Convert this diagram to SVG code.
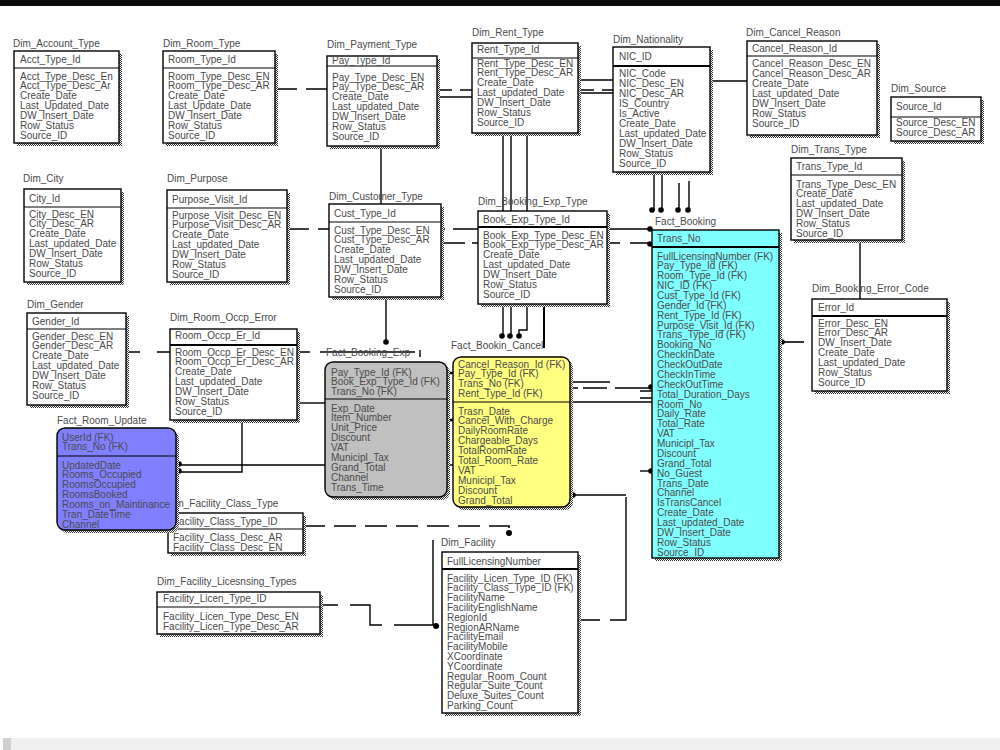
<svg xmlns="http://www.w3.org/2000/svg" width="1000" height="750" viewBox="0 0 1000 750">
<defs>
<pattern id="sh" width="2" height="2" patternUnits="userSpaceOnUse"><rect width="2" height="2" fill="#fff"/><rect width="1" height="1" fill="#333"/><rect x="1" y="1" width="1" height="1" fill="#333"/></pattern>
<clipPath id="cpAcct"><rect x="14" y="51" width="99" height="92"/></clipPath>
<style>
.t{font-family:"Liberation Sans",Arial,sans-serif;font-size:10px;fill:#4a4a4a}
.b{fill:#fff;stroke:#000;stroke-width:1.4}
.s{fill:url(#sh)}
.h{stroke:#000;stroke-width:1.2}
.hk{stroke:#000;stroke-width:2.2}
.c{fill:none;stroke:#000;stroke-width:1.4}
.d{fill:none;stroke:#000;stroke-width:1.6;stroke-dasharray:22 9}
.dot{fill:#000}
</style>
</defs>
<rect width="1000" height="750" fill="#fff"/>
<rect x="0" y="0" width="1000" height="6" fill="#0a0a0a"/>
<rect x="3" y="738" width="997" height="12" fill="#efefef"/>
<rect x="3" y="738" width="8" height="12" fill="#cfcfcf"/>

<g id="connectors">
<path class="d" d="M275,89 H327"/>
<path class="c" d="M437,90 H452 M460,90 H472"/>
<path class="c" d="M437,97 H472"/>
<path class="c" d="M578,80 H613"/>
<path class="c" d="M578,90 H594 M602,90 H613"/>
<path class="c" d="M578,93 H613"/>
<path class="c" d="M710,81 H747"/>
<path class="c" d="M654,172 V210 M662,172 V210 M679,183 V210 M689,181 V210"/>
<circle class="dot" cx="652" cy="210" r="2.8"/><circle class="dot" cx="661" cy="210" r="2.8"/>
<circle class="dot" cx="678" cy="210" r="2.8"/><circle class="dot" cx="688" cy="210" r="2.8"/>
<path class="d" d="M287,229 H329"/>
<path class="c" d="M441,229 H445 M453,229 H478 M607,229 H650"/>
<path class="c" d="M441,243 H465 M472,243 H478 M607,243 H620 M630,243 H650"/>
<circle class="dot" cx="650" cy="229" r="2.8"/><circle class="dot" cx="650" cy="244" r="2.8"/>
<path class="c" d="M381,146 V204 M386,297 V342"/>
<circle class="dot" cx="386" cy="342" r="2.8"/>
<path class="c" d="M503,133 V211 M511,133 V211 M527,133 V211"/>
<path class="c" d="M503,304 V336 M511,304 V336 M527,304 V330 H519 V336"/>
<path class="c" style="stroke-width:2" d="M544,304 V348"/>
<circle class="dot" cx="502" cy="336" r="2.8"/><circle class="dot" cx="510" cy="336" r="2.8"/><circle class="dot" cx="519" cy="336" r="2.8"/>
<path class="c" d="M126,352 H140 M157,352 H170"/>
<path class="c" d="M297,352 H310 M320,352 H415 M420,350 V357"/>
<path class="c" d="M297,403 H325"/>
<path class="c" d="M242,420 V472 H180"/>
<path class="c" d="M180,465 H325 M447,465 H453"/>
<circle class="dot" cx="179" cy="464" r="2.8"/><circle class="dot" cx="179" cy="471" r="2.8"/>
<path class="c" style="stroke-width:2.5" d="M447,373 H453 M447,420 H453"/>
<path class="c" d="M570,382 H610"/>
<path class="c" d="M572,388 H578 M583,388 H607 M615,388 H650"/>
<path class="c" d="M570,402 H652"/>
<path class="c" d="M640,391 H652 M640,398 H652"/>
<circle class="dot" cx="651" cy="387" r="2.8"/>
<path class="c" d="M573,495 H626"/>
<circle class="dot" cx="573" cy="495" r="2.8"/>
<path class="c" d="M640,471 H652"/>
<circle class="dot" cx="651" cy="471" r="2.8"/>
<path class="d" d="M782,342 H812"/>
<circle class="dot" cx="782" cy="342" r="2.8"/>
<path class="c" d="M860,240 V299"/>
<path class="d" d="M303,526 H509 V533"/>
<circle class="dot" cx="509" cy="533" r="3"/>
<path class="c" d="M320,605 H338 M350,605 H370 V625 H382 M394,625 H436"/>
<path class="c" d="M433,540 V625"/>
<circle class="dot" cx="436" cy="626" r="3"/>
<path class="c" d="M626,497 V620 H610 M600,620 H578"/>
</g>

<g id="Dim_Account_Type">
<rect class="s" x="17" y="54" width="105" height="92"/>
<rect class="b" x="14" y="51" width="105" height="92"/>
<line class="h" x1="14" y1="68" x2="119" y2="68"/>
<text class="t" x="13" y="47">Dim_Account_Type</text>
<text class="t" x="20" y="62.5">Acct_Type_Id</text>
<g clip-path="url(#cpAcct)"><text class="t" x="20" y="79.5"><tspan x="20">Acct_Type_Desc_En</tspan><tspan x="20" dy="9.9">Acct_Type_Desc_Ar</tspan><tspan x="20" dy="9.9">Create_Date</tspan><tspan x="20" dy="9.9">Last_Updated_Date</tspan><tspan x="20" dy="9.9">DW_Insert_Date</tspan><tspan x="20" dy="9.9">Row_Status</tspan><tspan x="20" dy="9.9">Source_ID</tspan></text></g>
</g>

<g id="Dim_Room_Type">
<rect class="s" x="166" y="54" width="112" height="92"/>
<rect class="b" x="163" y="51" width="112" height="92"/>
<line class="h" x1="163" y1="68" x2="275" y2="68"/>
<text class="t" x="163" y="47">Dim_Room_Type</text>
<text class="t" x="168" y="62.5">Room_Type_Id</text>
<text class="t" x="168" y="79.5"><tspan x="168">Room_Type_Desc_EN</tspan><tspan x="168" dy="9.9">Room_Type_Desc_AR</tspan><tspan x="168" dy="9.9">Create_Date</tspan><tspan x="168" dy="9.9">Last_Update_Date</tspan><tspan x="168" dy="9.9">DW_Insert_Date</tspan><tspan x="168" dy="9.9">Row_Status</tspan><tspan x="168" dy="9.9">Source_ID</tspan></text>
</g>

<g id="Dim_Payment_Type">
<rect class="s" x="330" y="59" width="110" height="90"/>
<rect class="b" x="327" y="56" width="110" height="90"/>
<line class="h" x1="327" y1="66" x2="437" y2="66"/>
<text class="t" x="327" y="47.5">Dim_Payment_Type</text>
<text class="t" x="332" y="64">Pay_Type_Id</text>
<text class="t" x="332" y="80.5"><tspan x="332">Pay_Type_Desc_EN</tspan><tspan x="332" dy="9.9">Pay_Type_Desc_AR</tspan><tspan x="332" dy="9.9">Create_Date</tspan><tspan x="332" dy="9.9">Last_updated_Date</tspan><tspan x="332" dy="9.9">DW_Insert_Date</tspan><tspan x="332" dy="9.9">Row_Status</tspan><tspan x="332" dy="9.9">Source_ID</tspan></text>
</g>

<g id="Dim_Rent_Type">
<rect class="s" x="475" y="46" width="106" height="90"/>
<rect class="b" x="472" y="43" width="106" height="90"/>
<line class="h" x1="472" y1="58" x2="578" y2="58"/>
<text class="t" x="472" y="35.5">Dim_Rent_Type</text>
<text class="t" x="477" y="53">Rent_Type_Id</text>
<text class="t" x="477" y="66.5"><tspan x="477">Rent_Type_Desc_EN</tspan><tspan x="477" dy="9.9">Rent_Type_Desc_AR</tspan><tspan x="477" dy="9.9">Create_Date</tspan><tspan x="477" dy="9.9">Last_updated_Date</tspan><tspan x="477" dy="9.9">DW_Insert_Date</tspan><tspan x="477" dy="9.9">Row_Status</tspan><tspan x="477" dy="9.9">Source_ID</tspan></text>
</g>

<g id="Dim_Nationality">
<rect class="s" x="616" y="50" width="97" height="125"/>
<rect class="b" x="613" y="47" width="97" height="125"/>
<line class="hk" x1="613" y1="66" x2="710" y2="66"/>
<text class="t" x="613" y="42.5">Dim_Nationality</text>
<text class="t" x="619" y="59.5">NIC_ID</text>
<text class="t" x="619" y="76.5"><tspan x="619">NIC_Code</tspan><tspan x="619" dy="10">NIC_Desc_EN</tspan><tspan x="619" dy="10">NIC_Desc_AR</tspan><tspan x="619" dy="10">IS_Country</tspan><tspan x="619" dy="10">Is_Active</tspan><tspan x="619" dy="10">Create_Date</tspan><tspan x="619" dy="10">Last_updated_Date</tspan><tspan x="619" dy="10">DW_Insert_Date</tspan><tspan x="619" dy="10">Row_Status</tspan><tspan x="619" dy="10">Source_ID</tspan></text>
</g>

<g id="Dim_Cancel_Reason">
<rect class="s" x="750" y="44" width="130" height="94"/>
<rect class="b" x="747" y="41" width="130" height="94"/>
<line class="h" x1="747" y1="56" x2="877" y2="56"/>
<text class="t" x="746" y="36">Dim_Cancel_Reason</text>
<text class="t" x="752" y="52">Cancel_Reason_Id</text>
<text class="t" x="752" y="66.5"><tspan x="752">Cancel_Reason_Desc_EN</tspan><tspan x="752" dy="10">Cancel_Reason_Desc_AR</tspan><tspan x="752" dy="10">Create_Date</tspan><tspan x="752" dy="10">Last_updated_Date</tspan><tspan x="752" dy="10">DW_Insert_Date</tspan><tspan x="752" dy="10">Row_Status</tspan><tspan x="752" dy="10">Source_ID</tspan></text>
</g>

<g id="Dim_Source">
<rect class="s" x="894" y="100" width="90" height="44"/>
<rect class="b" x="891" y="97" width="90" height="44"/>
<line class="h" x1="891" y1="117" x2="981" y2="117"/>
<text class="t" x="891" y="92">Dim_Source</text>
<text class="t" x="896" y="109.5">Source_Id</text>
<text class="t" x="896" y="125.5"><tspan x="896">Source_Desc_EN</tspan><tspan x="896" dy="10">Source_Desc_AR</tspan></text>
</g>

<g id="Dim_Trans_Type">
<rect class="s" x="794" y="161" width="111" height="82"/>
<rect class="b" x="791" y="158" width="111" height="82"/>
<line class="h" x1="791" y1="175" x2="902" y2="175"/>
<text class="t" x="791" y="153">Dim_Trans_Type</text>
<text class="t" x="796" y="170">Trans_Type_Id</text>
<text class="t" x="796" y="187.5"><tspan x="796">Trans_Type_Desc_EN</tspan><tspan x="796" dy="9.9">Create_Date</tspan><tspan x="796" dy="9.9">Last_updated_Date</tspan><tspan x="796" dy="9.9">DW_Insert_Date</tspan><tspan x="796" dy="9.9">Row_Status</tspan><tspan x="796" dy="9.9">Source_ID</tspan></text>
</g>

<g id="Dim_City">
<rect class="s" x="27" y="192" width="97" height="93"/>
<rect class="b" x="24" y="189" width="97" height="93"/>
<line class="h" x1="24" y1="207" x2="121" y2="207"/>
<text class="t" x="23" y="182">Dim_City</text>
<text class="t" x="29" y="201.5">City_Id</text>
<text class="t" x="29" y="217.5"><tspan x="29">City_Desc_EN</tspan><tspan x="29" dy="9.9">City_Desc_AR</tspan><tspan x="29" dy="9.9">Create_Date</tspan><tspan x="29" dy="9.9">Last_updated_Date</tspan><tspan x="29" dy="9.9">DW_Insert_Date</tspan><tspan x="29" dy="9.9">Row_Status</tspan><tspan x="29" dy="9.9">Source_ID</tspan></text>
</g>

<g id="Dim_Purpose">
<rect class="s" x="170" y="193" width="120" height="92"/>
<rect class="b" x="167" y="190" width="120" height="92"/>
<line class="h" x1="167" y1="208" x2="287" y2="208"/>
<text class="t" x="167" y="182">Dim_Purpose</text>
<text class="t" x="172" y="202.5">Purpose_Visit_Id</text>
<text class="t" x="172" y="218.5"><tspan x="172">Purpose_Visit_Desc_EN</tspan><tspan x="172" dy="9.9">Purpose_Visit_Desc_AR</tspan><tspan x="172" dy="9.9">Create_Date</tspan><tspan x="172" dy="9.9">Last_updated_Date</tspan><tspan x="172" dy="9.9">DW_Insert_Date</tspan><tspan x="172" dy="9.9">Row_Status</tspan><tspan x="172" dy="9.9">Source_ID</tspan></text>
</g>

<g id="Dim_Customer_Type">
<rect class="s" x="332" y="207" width="112" height="93"/>
<rect class="b" x="329" y="204" width="112" height="93"/>
<line class="h" x1="329" y1="222" x2="441" y2="222"/>
<text class="t" x="329" y="200">Dim_Customer_Type</text>
<text class="t" x="334" y="216.5">Cust_Type_Id</text>
<text class="t" x="334" y="233.5"><tspan x="334">Cust_Type_Desc_EN</tspan><tspan x="334" dy="9.9">Cust_Type_Desc_AR</tspan><tspan x="334" dy="9.9">Create_Date</tspan><tspan x="334" dy="9.9">Last_updated_Date</tspan><tspan x="334" dy="9.9">DW_Insert_Date</tspan><tspan x="334" dy="9.9">Row_Status</tspan><tspan x="334" dy="9.9">Source_ID</tspan></text>
</g>

<g id="Dim_Booking_Exp_Type">
<rect class="s" x="481" y="214" width="129" height="93"/>
<rect class="b" x="478" y="211" width="129" height="93"/>
<line class="hk" x1="478" y1="227" x2="607" y2="227"/>
<text class="t" x="478" y="205">Dim_Booking_Exp_Type</text>
<text class="t" x="483" y="222.5">Book_Exp_Type_Id</text>
<text class="t" x="483" y="238.5"><tspan x="483">Book_Exp_Type_Desc_EN</tspan><tspan x="483" dy="9.9">Book_Exp_Type_Desc_AR</tspan><tspan x="483" dy="9.9">Create_Date</tspan><tspan x="483" dy="9.9">Last_updated_Date</tspan><tspan x="483" dy="9.9">DW_Insert_Date</tspan><tspan x="483" dy="9.9">Row_Status</tspan><tspan x="483" dy="9.9">Source_ID</tspan></text>
</g>

<g id="Fact_Booking">
<rect class="s" x="655" y="233" width="127" height="328"/>
<rect class="b" x="652" y="230" width="127" height="328" style="fill:#80ffff"/>
<line class="hk" x1="652" y1="247" x2="779" y2="247"/>
<text class="t" x="655" y="225">Fact_Booking</text>
<text class="t" x="657" y="241.5">Trans_No</text>
<text class="t" x="657" y="259.5"><tspan x="657">FullLicensingNumber (FK)</tspan><tspan x="657" dy="9.87">Pay_Type_Id (FK)</tspan><tspan x="657" dy="9.87">Room_Type_Id (FK)</tspan><tspan x="657" dy="9.87">NIC_ID (FK)</tspan><tspan x="657" dy="9.87">Cust_Type_Id (FK)</tspan><tspan x="657" dy="9.87">Gender_Id (FK)</tspan><tspan x="657" dy="9.87">Rent_Type_Id (FK)</tspan><tspan x="657" dy="9.87">Purpose_Visit_Id (FK)</tspan><tspan x="657" dy="9.87">Trans_Type_Id (FK)</tspan><tspan x="657" dy="9.87">Booking_No</tspan><tspan x="657" dy="9.87">CheckInDate</tspan><tspan x="657" dy="9.87">CheckOutDate</tspan><tspan x="657" dy="9.87">CheckInTime</tspan><tspan x="657" dy="9.87">CheckOutTime</tspan><tspan x="657" dy="9.87">Total_Duration_Days</tspan><tspan x="657" dy="9.87">Room_No</tspan><tspan x="657" dy="9.87">Daily_Rate</tspan><tspan x="657" dy="9.87">Total_Rate</tspan><tspan x="657" dy="9.87">VAT</tspan><tspan x="657" dy="9.87">Municipl_Tax</tspan><tspan x="657" dy="9.87">Discount</tspan><tspan x="657" dy="9.87">Grand_Total</tspan><tspan x="657" dy="9.87">No_Guest</tspan><tspan x="657" dy="9.87">Trans_Date</tspan><tspan x="657" dy="9.87">Channel</tspan><tspan x="657" dy="9.87">IsTransCancel</tspan><tspan x="657" dy="9.87">Create_Date</tspan><tspan x="657" dy="9.87">Last_updated_Date</tspan><tspan x="657" dy="9.87">DW_Insert_Date</tspan><tspan x="657" dy="9.87">Row_Status</tspan><tspan x="657" dy="9.87">Source_ID</tspan></text>
</g>

<g id="Dim_Booking_Error_Code">
<rect class="s" x="815" y="302" width="135" height="92"/>
<rect class="b" x="812" y="299" width="135" height="92"/>
<line class="hk" x1="812" y1="316" x2="947" y2="316"/>
<text class="t" x="812" y="292">Dim_Booking_Error_Code</text>
<text class="t" x="818" y="310.5">Error_Id</text>
<text class="t" x="818" y="326.5"><tspan x="818">Error_Desc_EN</tspan><tspan x="818" dy="9.9">Error_Desc_AR</tspan><tspan x="818" dy="9.9">DW_Insert_Date</tspan><tspan x="818" dy="9.9">Create_Date</tspan><tspan x="818" dy="9.9">Last_updated_Date</tspan><tspan x="818" dy="9.9">Row_Status</tspan><tspan x="818" dy="9.9">Source_ID</tspan></text>
</g>

<g id="Dim_Gender">
<rect class="s" x="30" y="316" width="99" height="92"/>
<rect class="b" x="27" y="313" width="99" height="92"/>
<line class="h" x1="27" y1="329" x2="126" y2="329"/>
<text class="t" x="27" y="308">Dim_Gender</text>
<text class="t" x="32" y="324.5">Gender_Id</text>
<text class="t" x="32" y="339.5"><tspan x="32">Gender_Desc_EN</tspan><tspan x="32" dy="9.9">Gender_Desc_AR</tspan><tspan x="32" dy="9.9">Create_Date</tspan><tspan x="32" dy="9.9">Last_updated_Date</tspan><tspan x="32" dy="9.9">DW_Insert_Date</tspan><tspan x="32" dy="9.9">Row_Status</tspan><tspan x="32" dy="9.9">Source_ID</tspan></text>
</g>

<g id="Dim_Room_Occp_Error">
<rect class="s" x="173" y="332" width="127" height="91"/>
<rect class="b" x="170" y="329" width="127" height="91"/>
<line class="hk" x1="170" y1="345" x2="297" y2="345"/>
<text class="t" x="170" y="321">Dim_Room_Occp_Error</text>
<text class="t" x="175" y="338.5">Room_Occp_Er_Id</text>
<text class="t" x="175" y="355.5"><tspan x="175">Room_Occp_Er_Desc_EN</tspan><tspan x="175" dy="9.9">Room_Occp_Er_Desc_AR</tspan><tspan x="175" dy="9.9">Create_Date</tspan><tspan x="175" dy="9.9">Last_updated_Date</tspan><tspan x="175" dy="9.9">DW_Insert_Date</tspan><tspan x="175" dy="9.9">Row_Status</tspan><tspan x="175" dy="9.9">Source_ID</tspan></text>
</g>

<g id="Fact_Booking_Exp">
<rect class="s" x="328" y="365" width="122" height="135" rx="8"/>
<rect class="b" x="325" y="362" width="122" height="135" rx="8" style="fill:#c0c0c0"/>
<line class="h" x1="325" y1="399" x2="447" y2="399"/>
<text class="t" x="326" y="356">Fact_Booking_Exp</text>
<text class="t" x="331" y="375.5"><tspan x="331">Pay_Type_Id (FK)</tspan><tspan x="331" dy="9.5">Book_Exp_Type_Id (FK)</tspan><tspan x="331" dy="9.5">Trans_No (FK)</tspan></text>
<text class="t" x="331" y="411.5"><tspan x="331">Exp_Date</tspan><tspan x="331" dy="9.9">Item_Number</tspan><tspan x="331" dy="9.9">Unit_Price</tspan><tspan x="331" dy="9.9">Discount</tspan><tspan x="331" dy="9.9">VAT</tspan><tspan x="331" dy="9.9">Municipl_Tax</tspan><tspan x="331" dy="9.9">Grand_Total</tspan><tspan x="331" dy="9.9">Channel</tspan><tspan x="331" dy="9.9">Trans_Time</tspan></text>
</g>

<g id="Fact_Bookin_Cancel">
<rect class="s" x="456" y="360" width="117" height="150" rx="8"/>
<rect class="b" x="453" y="357" width="117" height="150" rx="8" style="fill:#ffff80"/>
<line class="h" x1="453" y1="402" x2="570" y2="402"/>
<text class="t" x="451" y="349">Fact_Bookin_Cancel</text>
<text class="t" x="458" y="367.5"><tspan x="458">Cancel_Reason_Id (FK)</tspan><tspan x="458" dy="9.7">Pay_Type_Id (FK)</tspan><tspan x="458" dy="9.7">Trans_No (FK)</tspan><tspan x="458" dy="9.7">Rent_Type_Id (FK)</tspan></text>
<text class="t" x="458" y="414.5"><tspan x="458">Trasn_Date</tspan><tspan x="458" dy="9.9">Cancel_With_Charge</tspan><tspan x="458" dy="9.9">DailyRoomRate</tspan><tspan x="458" dy="9.9">Chargeable_Days</tspan><tspan x="458" dy="9.9">TotalRoomRate</tspan><tspan x="458" dy="9.9">Total_Room_Rate</tspan><tspan x="458" dy="9.9">VAT</tspan><tspan x="458" dy="9.9">Municipl_Tax</tspan><tspan x="458" dy="9.9">Discount</tspan><tspan x="458" dy="9.9">Grand_Total</tspan></text>
</g>

<g id="Dim_Facility_Class_Type">
<rect class="s" x="171" y="516" width="135" height="40"/>
<rect class="b" x="168" y="513" width="135" height="40"/>
<line class="h" x1="168" y1="529" x2="303" y2="529"/>
<text class="t" x="166" y="507">Dim_Facility_Class_Type</text>
<text class="t" x="173" y="524.5">Facility_Class_Type_ID</text>
<text class="t" x="173" y="540.5"><tspan x="173">Facility_Class_Desc_AR</tspan><tspan x="173" dy="10">Facility_Class_Desc_EN</tspan></text>
</g>

<g id="Fact_Room_Update">
<rect class="s" x="60" y="431" width="119" height="102" rx="8"/>
<rect class="b" x="57" y="428" width="119" height="102" rx="8" style="fill:#8080ff"/>
<line class="h" x1="57" y1="456" x2="176" y2="456"/>
<text class="t" x="57" y="424">Fact_Room_Update</text>
<text class="t" x="62" y="440.5"><tspan x="62">UserId (FK)</tspan><tspan x="62" dy="9">Trans_No (FK)</tspan></text>
<text class="t" x="62" y="468.5"><tspan x="62">UpdatedDate</tspan><tspan x="62" dy="9.9">Rooms_Occupied</tspan><tspan x="62" dy="9.9">RoomsOccupied</tspan><tspan x="62" dy="9.9">RoomsBooked</tspan><tspan x="62" dy="9.9">Rooms_on_Maintinance</tspan><tspan x="62" dy="9.9">Tran_DateTime</tspan><tspan x="62" dy="9.9">Channel</tspan></text>
</g>

<g id="Dim_Facility_Licesnsing_Types">
<rect class="s" x="160" y="595" width="163" height="42"/>
<rect class="b" x="157" y="592" width="163" height="42"/>
<line class="h" x1="157" y1="607" x2="320" y2="607"/>
<text class="t" x="157" y="585">Dim_Facility_Licesnsing_Types</text>
<text class="t" x="163" y="601.5">Facility_Licen_Type_ID</text>
<text class="t" x="163" y="619.5"><tspan x="163">Facility_Licen_Type_Desc_EN</tspan><tspan x="163" dy="10">Facility_Licen_Type_Desc_AR</tspan></text>
</g>

<g id="Dim_Facility">
<rect class="s" x="445" y="555" width="136" height="161"/>
<rect class="b" x="442" y="552" width="136" height="161"/>
<line class="hk" x1="442" y1="569" x2="578" y2="569"/>
<text class="t" x="441" y="546">Dim_Facility</text>
<text class="t" x="447" y="564.5">FullLicensingNumber</text>
<text class="t" x="447" y="581.5"><tspan x="447">Facility_Licen_Type_ID (FK)</tspan><tspan x="447" dy="9.8">Facility_Class_Type_ID (FK)</tspan><tspan x="447" dy="9.8">FacilityName</tspan><tspan x="447" dy="9.8">FacilityEnglishName</tspan><tspan x="447" dy="9.8">RegionId</tspan><tspan x="447" dy="9.8">RegionARName</tspan><tspan x="447" dy="9.8">FacilityEmail</tspan><tspan x="447" dy="9.8">FacilityMobile</tspan><tspan x="447" dy="9.8">XCoordinate</tspan><tspan x="447" dy="9.8">YCoordinate</tspan><tspan x="447" dy="9.8">Regular_Room_Count</tspan><tspan x="447" dy="9.8">Regular_Suite_Count</tspan><tspan x="447" dy="9.8">Deluxe_Suites_Count</tspan><tspan x="447" dy="9.8">Parking_Count</tspan></text>
</g>
</svg>
